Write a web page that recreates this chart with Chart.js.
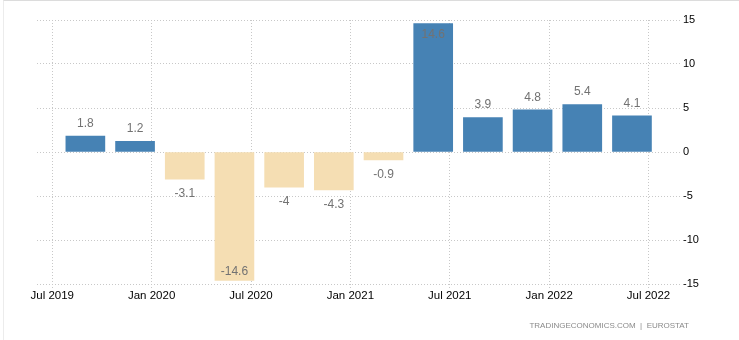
<!DOCTYPE html>
<html lang="en">
<head>
  <meta charset="UTF-8">
  <title>GDP Growth Rate</title>
  <style>
    body {
      margin: 0;
      background: #ffffff;
      font-family: "Liberation Sans", Arial, sans-serif;
    }

    .wrap {
      position: relative;
      width: 739px;
      height: 340px;
      overflow: hidden;
    }

    /* thin panel frame along the top and left edge */
    .frame {
      position: absolute;
      left: 3px;
      top: 0;
      width: 800px;
      height: 400px;
      border-top: 1px solid #dcdcdc;
      border-left: 1px solid #ececec;
    }

    #growth-chart {
      position: absolute;
      left: 0;
      top: 0;
    }

    .source {
      position: absolute;
      right: 50px;
      top: 321px;
      font-size: 8px;
      color: #8a8a8a;
      white-space: pre;
    }
  </style>
  <script src="https://cdn.jsdelivr.net/npm/chart.js"></script>
</head>
<body>
  <div class="wrap">
    <div class="frame"></div>
    <canvas id="growth-chart" width="739" height="340"></canvas>
    <div class="source">TRADINGECONOMICS.COM  |  EUROSTAT</div>
  </div>

  <script>
    // Quarterly growth, one bar per quarter (plotted at the quarter's last month)
    const quarters = ['2019-09', '2019-12', '2020-03', '2020-06', '2020-09', '2020-12',
                      '2021-03', '2021-06', '2021-09', '2021-12', '2022-03', '2022-06'];
    const growth = [1.8, 1.2, -3.1, -14.6, -4, -4.3, -0.9, 14.6, 3.9, 4.8, 5.4, 4.1];

    // Axis labels
    const tickLabels = ['Jul 2019', 'Jan 2020', 'Jul 2020', 'Jan 2021', 'Jul 2021', 'Jan 2022', 'Jul 2022'];
    const yTicks = [-15, -10, -5, 0, 5, 10, 15];

    const monthNames = ['Jan', 'Feb', 'Mar', 'Apr', 'May', 'Jun', 'Jul', 'Aug', 'Sep', 'Oct', 'Nov', 'Dec'];

    // month count since year 0, so the x axis is a plain linear scale
    function monthOfQuarter(s) {
      const [y, m] = s.split('-').map(Number);
      return y * 12 + (m - 1);
    }
    function monthOfLabel(s) {
      const [name, y] = s.split(' ');
      return Number(y) * 12 + monthNames.indexOf(name);
    }

    const tickMonths = tickLabels.map(monthOfLabel);
    const points = quarters.map((q, i) => ({ x: monthOfQuarter(q), y: growth[i] }));

    const fontFamily = '"Liberation Sans", Arial, sans-serif';

    // dotted grid; in v4 the grid dash comes from border.dash
    const gridStyle = {
      color: '#c8c8c8',
      lineWidth: 1,
      tickBorderDash: [1, 2]
    };
    const borderStyle = { display: false, dash: [1, 2] };

    // value labels above positive bars, below negative ones, inside if no room
    const barLabels = {
      id: 'barLabels',
      afterDatasetsDraw(chart) {
        const { ctx, chartArea } = chart;
        const meta = chart.getDatasetMeta(0);
        ctx.save();
        ctx.font = '12px ' + fontFamily;
        ctx.fillStyle = '#727272';
        ctx.textAlign = 'center';
        ctx.textBaseline = 'middle';
        meta.data.forEach((bar, i) => {
          const v = growth[i];
          let y;
          if (v >= 0) {
            y = bar.y - 12.5;
            if (y - 7 < chartArea.top) y = bar.y + 11;
          } else {
            y = bar.y + 14.5;
            if (y + 7 > chartArea.bottom) y = bar.y - 8.5;
          }
          ctx.fillText(String(v), bar.x, y);
        });
        ctx.restore();
      }
    };

    new Chart(document.getElementById('growth-chart'), {
      type: 'bar',
      data: {
        datasets: [{
          data: points,
          backgroundColor: c => (c.parsed && c.parsed.y < 0 ? '#F5DEB3' : '#4682B4'),
          barThickness: 39,
          borderWidth: 0
        }]
      },
      options: {
        responsive: false,
        animation: false,
        devicePixelRatio: 1,
        layout: { padding: { left: 37, top: 20, right: 0, bottom: 0 } },
        plugins: {
          legend: { display: false },
          tooltip: { enabled: false }
        },
        scales: {
          x: {
            type: 'linear',
            offset: false,
            min: tickMonths[0] - 0.92,
            max: tickMonths[0] + 37.9,
            grid: Object.assign({ offset: false, drawTicks: true, tickLength: 4 }, gridStyle),
            border: borderStyle,
            afterBuildTicks: scale => {
              scale.ticks = tickMonths.map(v => ({ value: v }));
            },
            afterFit: scale => { scale.height = 56; },
            ticks: {
              autoSkip: false,
              maxRotation: 0,
              padding: 1,
              color: '#000000',
              font: { family: fontFamily, size: 11.5 },
              callback: (value, index) => tickLabels[index]
            }
          },
          y: {
            position: 'right',
            min: yTicks[0],
            max: yTicks[yTicks.length - 1],
            grid: Object.assign({ drawTicks: false }, gridStyle),
            border: borderStyle,
            afterBuildTicks: scale => {
              scale.ticks = yTicks.map(v => ({ value: v }));
            },
            afterFit: scale => { scale.width = 59; },
            ticks: {
              padding: 3,
              color: '#000000',
              font: { family: fontFamily, size: 11 },
              callback: value => String(value)
            }
          }
        }
      },
      plugins: [barLabels]
    });
  </script>
</body>
</html>
